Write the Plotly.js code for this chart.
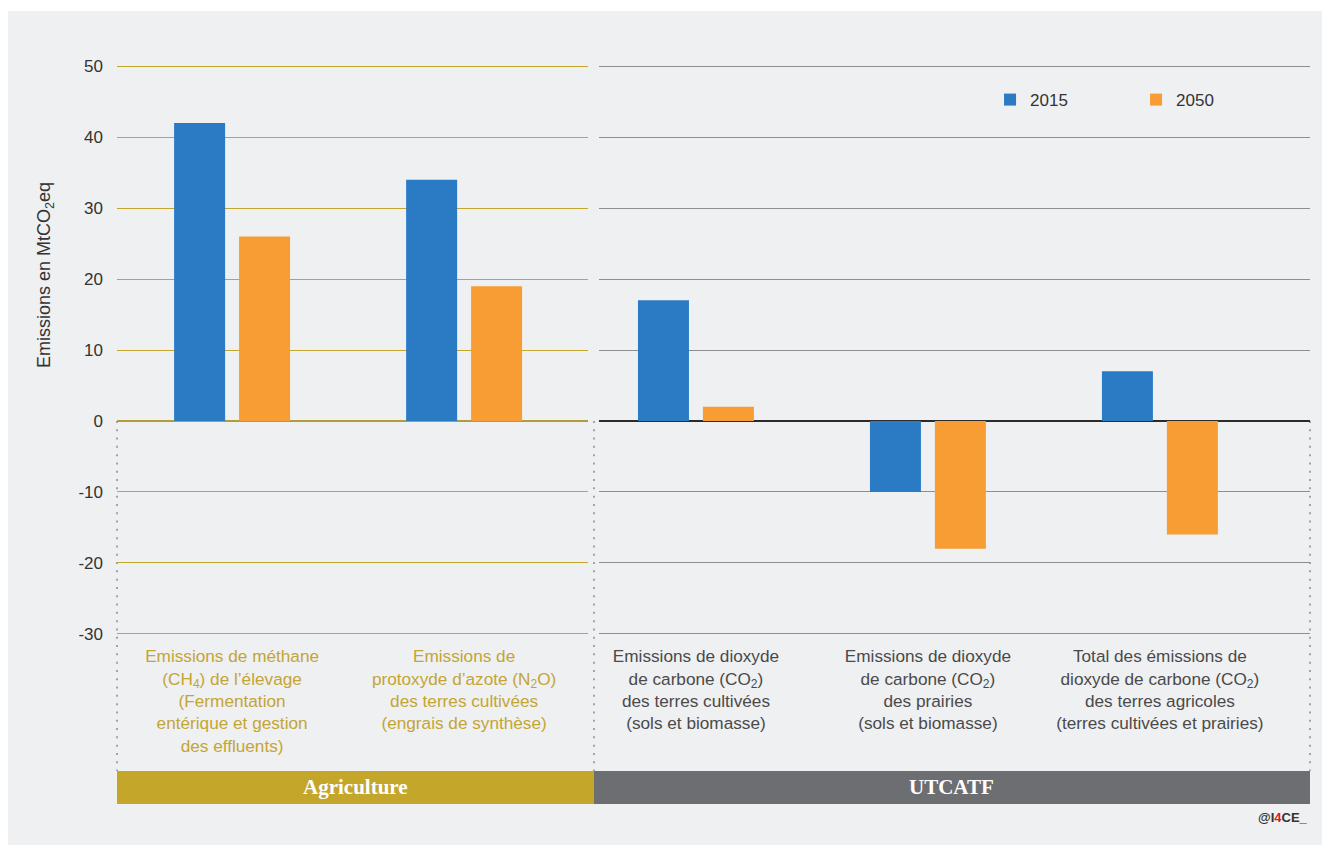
<!DOCTYPE html>
<html>
<head>
<meta charset="utf-8">
<script src="https://cdn.plot.ly/plotly-3.0.1.min.js"></script>
<style>
  html, body { margin: 0; padding: 0; background: #ffffff; }
  #chart { position: absolute; left: 8px; top: 11px; width: 1314px; height: 834px; }
</style>
</head>
<body>
<div id="chart"></div>
<script>
// ---- Data ----
const categoriesAgri = [
  "Emissions de méthane<br>(CH<sub>4</sub>) de l’élevage<br>(Fermentation<br>entérique et gestion<br>des effluents)",
  "Emissions de<br>protoxyde d’azote (N<sub>2</sub>O)<br>des terres cultivées<br>(engrais de synthèse)"
];
const categoriesUtcatf = [
  "Emissions de dioxyde<br>de carbone (CO<sub>2</sub>)<br>des terres cultivées<br>(sols et biomasse)",
  "Emissions de dioxyde<br>de carbone (CO<sub>2</sub>)<br>des prairies<br>(sols et biomasse)",
  "Total des émissions de<br>dioxyde de carbone (CO<sub>2</sub>)<br>des terres agricoles<br>(terres cultivées et prairies)"
];
const agri2015 = [42, 34];
const agri2050 = [26, 19];
const utcatf2015 = [17, -10, 7];
const utcatf2050 = [2, -18, -16];
const seriesNames = ["2015", "2050"];
const sectionNames = ["Agriculture", "UTCATF"];
const yTickVals = [-30, -20, -10, 0, 10, 20, 30, 40, 50];
const yTickText = ["-30", "-20", "-10", "0", "10", "20", "30", "40", "50"];
const yTitle = "Emissions en MtCO<sub>2</sub>eq";
const yRange = [-30.3, 50.3];

// ---- Styles ----
const BLUE = "#2a7bc4";
const ORANGE = "#f89d34";
const GOLD = "#c4a62b";
const GOLD_TEXT = "#c3a534";
const GRAY_BAR = "#6d6e71";
const FONT = "Liberation Sans, Arial, sans-serif";

const traces = [
  { type: "bar", name: seriesNames[0], legendgroup: "a", x: categoriesAgri, y: agri2015,
    xaxis: "x", yaxis: "y", marker: { color: BLUE, line: { width: 0 } }, hoverinfo: "y" },
  { type: "bar", name: seriesNames[1], legendgroup: "b", x: categoriesAgri, y: agri2050,
    xaxis: "x", yaxis: "y", marker: { color: ORANGE, line: { width: 0 } }, hoverinfo: "y" },
  { type: "bar", name: seriesNames[0], legendgroup: "a", showlegend: false, x: categoriesUtcatf, y: utcatf2015,
    xaxis: "x2", yaxis: "y2", marker: { color: BLUE, line: { width: 0 } }, hoverinfo: "y" },
  { type: "bar", name: seriesNames[1], legendgroup: "b", showlegend: false, x: categoriesUtcatf, y: utcatf2050,
    xaxis: "x2", yaxis: "y2", marker: { color: ORANGE, line: { width: 0 } }, hoverinfo: "y" }
];

const zeroFrac = (0 - yRange[0]) / (yRange[1] - yRange[0]);
const splitX = 0.3998;
const dotY1 = -0.236;
const barY0 = -0.236, barY1 = -0.2937;

const dotted = [0, splitX, 1].map(x => ({
  type: "line", xref: "paper", yref: "paper", x0: x, x1: x, y0: zeroFrac, y1: dotY1,
  line: { color: "#a3a3a3", width: 2, dash: "2px,6.3px" }, layer: "below"
}));

const layout = {
  width: 1314, height: 834,
  paper_bgcolor: "#eff0f2", plot_bgcolor: "rgba(0,0,0,0)",
  margin: { l: 109, r: 12, t: 53, b: 209, autoexpand: false },
  font: { family: FONT, color: "#333333", size: 16 },
  barmode: "group", bargap: 0.44, bargroupgap: 0.215,
  showlegend: true,
  legend: {
    orientation: "h", x: 0.7318, xanchor: "left", y: 0.937, yanchor: "middle",
    font: { size: 17, color: "#333333", family: FONT },
    entrywidth: 101, entrywidthmode: "pixels", bgcolor: "rgba(0,0,0,0)", traceorder: "normal"
  },
  xaxis: {
    domain: [0, 0.3948], type: "category", range: [-0.496, 1.534],
    showgrid: false, zeroline: false, showline: false, ticks: "",
    tickfont: { size: 17.2, color: GOLD_TEXT, family: FONT }, ticklabelstandoff: 8, anchor: "y"
  },
  xaxis2: {
    domain: [0.404, 1], type: "category", range: [-0.418, 2.647],
    showgrid: false, zeroline: false, showline: false, ticks: "",
    tickfont: { size: 17.2, color: "#4a4a4a", family: FONT }, ticklabelstandoff: 8, anchor: "y2"
  },
  yaxis: {
    range: yRange, tickvals: yTickVals, ticktext: yTickText, anchor: "x",
    showgrid: true, gridcolor: GOLD, gridwidth: 1,
    zeroline: true, zerolinecolor: "#b59c3a", zerolinewidth: 1.5,
    showline: false, ticks: "", ticklabelstandoff: 13,
    tickfont: { size: 17, color: "#333333", family: FONT }
  },
  yaxis2: {
    range: yRange, tickvals: yTickVals, anchor: "x2", matches: "y",
    showgrid: true, gridcolor: "#8e8e8e", gridwidth: 1,
    zeroline: true, zerolinecolor: "#2b2b2b", zerolinewidth: 1.5,
    showline: false, ticks: "", showticklabels: false
  },
  shapes: dotted.concat([
    { type: "rect", xref: "paper", yref: "paper", x0: 0, x1: splitX, y0: barY0, y1: barY1,
      fillcolor: GOLD, line: { width: 0 } },
    { type: "rect", xref: "paper", yref: "paper", x0: splitX, x1: 1, y0: barY0, y1: barY1,
      fillcolor: GRAY_BAR, line: { width: 0 } }
  ]),
  annotations: [
    { xref: "paper", yref: "paper", x: -0.0604, y: 0.631, text: yTitle, textangle: -90,
      showarrow: false, xanchor: "center", yanchor: "middle",
      font: { family: FONT, size: 18, color: "#333333" } },
    { xref: "paper", yref: "paper", x: splitX / 2, y: (barY0 + barY1) / 2, text: "<b>" + sectionNames[0] + "</b>",
      showarrow: false, xanchor: "center", yanchor: "middle",
      font: { family: "Liberation Serif, serif", size: 21, color: "#ffffff" } },
    { xref: "paper", yref: "paper", x: (splitX + 1) / 2, y: (barY0 + barY1) / 2, text: "<b>" + sectionNames[1] + "</b>",
      showarrow: false, xanchor: "center", yanchor: "middle",
      font: { family: "Liberation Serif, serif", size: 21, color: "#ffffff" } },
    { xref: "paper", yref: "paper", x: 1, y: -0.318, xanchor: "right", yanchor: "middle", showarrow: false,
      text: "<b>@I<span style='color:#e3191b'>4</span>CE_</b>",
      font: { family: FONT, size: 13, color: "#333333" } }
  ]
};

Plotly.newPlot("chart", traces, layout, { displayModeBar: false, staticPlot: true });
</script>
</body>
</html>
